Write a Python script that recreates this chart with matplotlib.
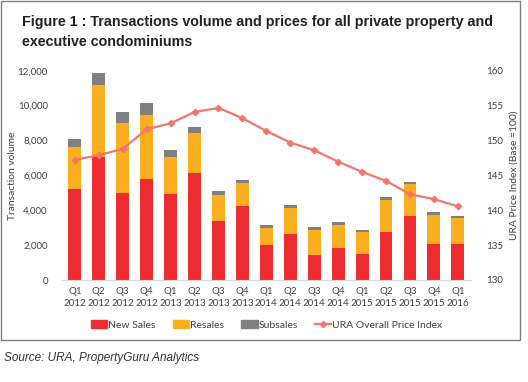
import matplotlib
matplotlib.use('Agg')
import matplotlib.pyplot as plt
import matplotlib.patches as mpatches
import numpy as np

quarters = ['Q1\n2012', 'Q2\n2012', 'Q3\n2012', 'Q4\n2012',
            'Q1\n2013', 'Q2\n2013', 'Q3\n2013', 'Q4\n2013',
            'Q1\n2014', 'Q2\n2014', 'Q3\n2014', 'Q4\n2014',
            'Q1\n2015', 'Q2\n2015', 'Q3\n2015', 'Q4\n2015',
            'Q1\n2016']
new_sales = [5200, 7035, 5010, 5770, 4910, 6150, 3380, 4220,
             1980, 2656, 1452, 1834, 1510, 2732, 3688, 2083, 2083]
resales = [2410, 4125, 3990, 3690, 2140, 2280, 1510, 1320,
           1010, 1490, 1433, 1338, 1261, 1835, 1796, 1662, 1471]
subsales = [460, 730, 630, 670, 420, 340, 210, 170,
            150, 153, 153, 153, 95, 172, 134, 134, 96]
price_index = [147.2, 147.9, 148.8, 151.6, 152.45, 154.1, 154.65, 153.2,
               151.35, 149.7, 148.6, 146.96, 145.5, 144.2, 142.3, 141.6, 140.55]

red = '#EE2B2F'
orange = '#FBAE1E'
grey = '#808080'
line_c = '#F2766E'
txt = '#404040'

plt.rcParams['font.family'] = ['Lato', 'DejaVu Sans']

fig = plt.figure(figsize=(5.28, 3.82), dpi=100)
ax = fig.add_axes([61.7/528, 1-280/382, (471-61.7)/528, (280-70.7)/382])

x = np.arange(len(quarters))
w = 0.54
nb = np.array(new_sales)
rb = np.array(resales)
sb = np.array(subsales)
ax.bar(x, nb, w, color=red, label='New Sales')
ax.bar(x, rb, w, bottom=nb, color=orange, label='Resales')
ax.bar(x, sb, w, bottom=nb+rb, color=grey, label='Subsales')

ax.set_ylim(0, 12000)
ax.set_xlim(-0.55, len(quarters)-0.45)
ax.set_yticks(range(0, 12001, 2000))
ax.set_yticklabels(['{:,}'.format(v) for v in range(0, 12001, 2000)])
ax.set_xticks(x)
ax.set_xticklabels(quarters, linespacing=1.4)
ax.tick_params(axis='both', length=0, labelsize=7.0, colors=txt)
ax.tick_params(axis='y', pad=10)
ax.tick_params(axis='x', pad=5)
for s in ['top', 'right', 'left']:
    ax.spines[s].set_visible(False)
ax.spines['bottom'].set_color('#D9D9D9')
ax.set_ylabel('Transaction volume', fontsize=7.4, color=txt)
ax.yaxis.set_label_coords(-0.109, 0.5)

ax2 = ax.twinx()
ax2.plot(x, price_index, color=line_c, lw=1.6, marker='D', markersize=3.2,
         label='URA Overall Price Index')
ax2.set_ylim(130, 160)
ax2.set_yticks(range(130, 161, 5))
ax2.tick_params(axis='y', length=0, labelsize=7.0, colors=txt, pad=11)
for s in ['top', 'right', 'left', 'bottom']:
    ax2.spines[s].set_visible(False)
ax2.set_ylabel('URA Price Index (Base =100)', fontsize=7.4, color=txt)
ax2.yaxis.set_label_coords(1.095, 0.5)

handles = [mpatches.Patch(color=red), mpatches.Patch(color=orange),
           mpatches.Patch(color=grey), ax2.get_lines()[0]]
fig.legend(handles, ['New Sales', 'Resales', 'Subsales', 'URA Overall Price Index'],
           loc='center', bbox_to_anchor=(0.505, 1-325/382), ncol=4, frameon=False,
           fontsize=7.5, handlelength=1.6, handletextpad=0.1, columnspacing=1.6,
           labelcolor=txt)

fig.text(22/528, 1-22/382, 'Figure 1 : Transactions volume and prices for all private property and',
         fontsize=10.3, fontweight='bold', family='Liberation Sans', color='#222222', va='center')
fig.text(22/528, 1-42/382, 'executive condominiums',
         fontsize=10.3, fontweight='bold', family='Liberation Sans', color='#222222', va='center')
fig.text(4/528, 1-358/382, 'Source: URA, PropertyGuru Analytics', fontsize=8.5,
         style='italic', family='Liberation Sans', color='#333333', va='center')

border = mpatches.Rectangle((1/528, 1-340/382), 519/528, 339/382, transform=fig.transFigure,
                            fill=False, edgecolor='#7F7F7F', lw=1.0)
fig.patches.append(border)

fig.savefig('out.png', dpi=100)
